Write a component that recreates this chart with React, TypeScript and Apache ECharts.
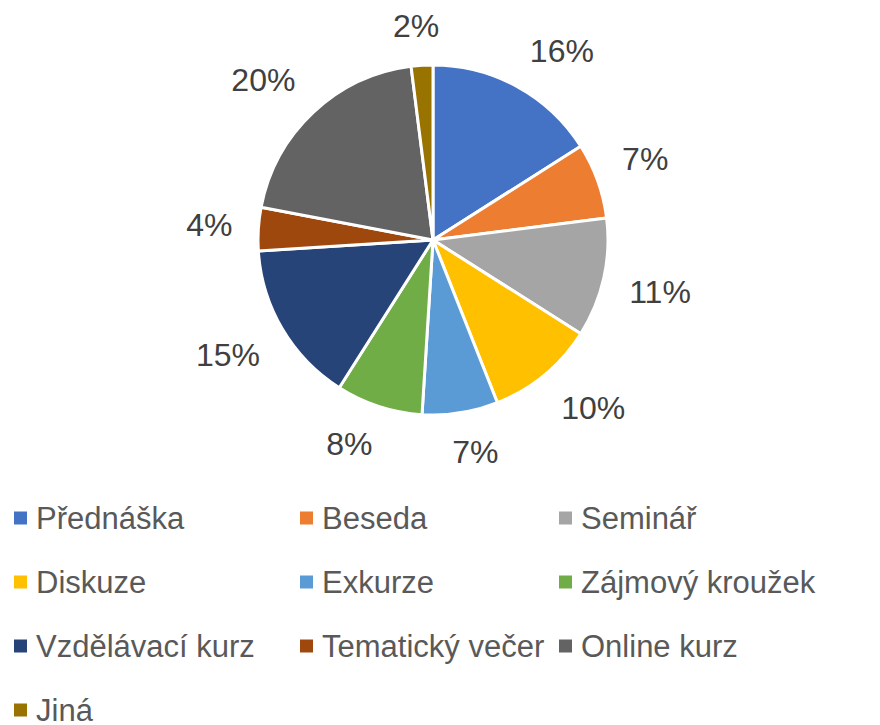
import React, { useEffect, useRef } from "react";
import * as echarts from "echarts";

const categories = [
  "Přednáška",
  "Beseda",
  "Seminář",
  "Diskuze",
  "Exkurze",
  "Zájmový kroužek",
  "Vzdělávací kurz",
  "Tematický večer",
  "Online kurz",
  "Jiná",
];
const values = [16, 7, 11, 10, 7, 8, 15, 4, 20, 2];
const colors = [
  "#4472C4",
  "#ED7D31",
  "#A5A5A5",
  "#FFC000",
  "#5B9BD5",
  "#70AD47",
  "#264478",
  "#9E480E",
  "#636363",
  "#997300",
];
const legendColumns = [
  ["Přednáška", "Diskuze", "Vzdělávací kurz", "Jiná"],
  ["Beseda", "Exkurze", "Tematický večer"],
  ["Seminář", "Zájmový kroužek", "Online kurz"],
];

const CX = 433;
const CY = 240;
const R = 175;
const GAP = 26;
const FONT = "'Liberation Sans', Arial, sans-serif";

export default function App() {
  const ref = useRef<HTMLDivElement>(null);
  useEffect(() => {
    if (!ref.current) return;
    const chart = echarts.init(ref.current, null, { renderer: "svg" });
    const total = values.reduce((a, b) => a + b, 0);
    const cum: number[] = [];
    let acc = 0;
    values.forEach((v) => {
      cum.push(acc);
      acc += v;
    });
    const legendLeft = [12, 298, 557];
    const clamp = (v: number) => Math.max(-1, Math.min(1, v));
    chart.setOption({
      animation: false,
      backgroundColor: "#ffffff",
      legend: legendColumns.map((col, i) => ({
        data: col,
        orient: "vertical",
        left: legendLeft[i],
        top: 502,
        height: 280,
        padding: 0,
        itemWidth: 15,
        itemHeight: 15,
        itemGap: 32,
        icon: "rect",
        selectedMode: false,
        textStyle: {
          fontFamily: FONT,
          fontSize: 31,
          color: "#595959",
          lineHeight: 32,
          padding: [0, 0, 0, 3],
        },
      })),
      series: [
        {
          type: "pie",
          center: [CX, CY],
          radius: R,
          startAngle: 90,
          clockwise: true,
          avoidLabelOverlap: false,
          itemStyle: { borderColor: "#ffffff", borderWidth: 3 },
          label: {
            show: true,
            position: "outside",
            formatter: "{d}%",
            fontFamily: FONT,
            fontSize: 32,
            color: "#404040",
          },
          labelLine: { show: false },
          labelLayout: (params: any) => {
            const i = params.dataIndex;
            const theta = ((cum[i] + values[i] / 2) / total) * Math.PI * 2;
            const sx = Math.sin(theta);
            const cy = -Math.cos(theta);
            const w = params.labelRect.width;
            const hh = 13;
            const d = R + GAP;
            return {
              x: CX + sx * d + clamp(sx * 3) * (w / 2),
              y: CY + cy * d + clamp(cy * 3) * hh,
              align: "center",
              verticalAlign: "middle",
            };
          },
          data: categories.map((name, i) => ({
            name,
            value: values[i],
            itemStyle: { color: colors[i] },
          })),
        },
      ],
    });
    return () => chart.dispose();
  }, []);
  return (
    <div
      ref={ref}
      style={{ position: "fixed", left: 0, top: 0, width: 880, height: 725 }}
    />
  );
}
